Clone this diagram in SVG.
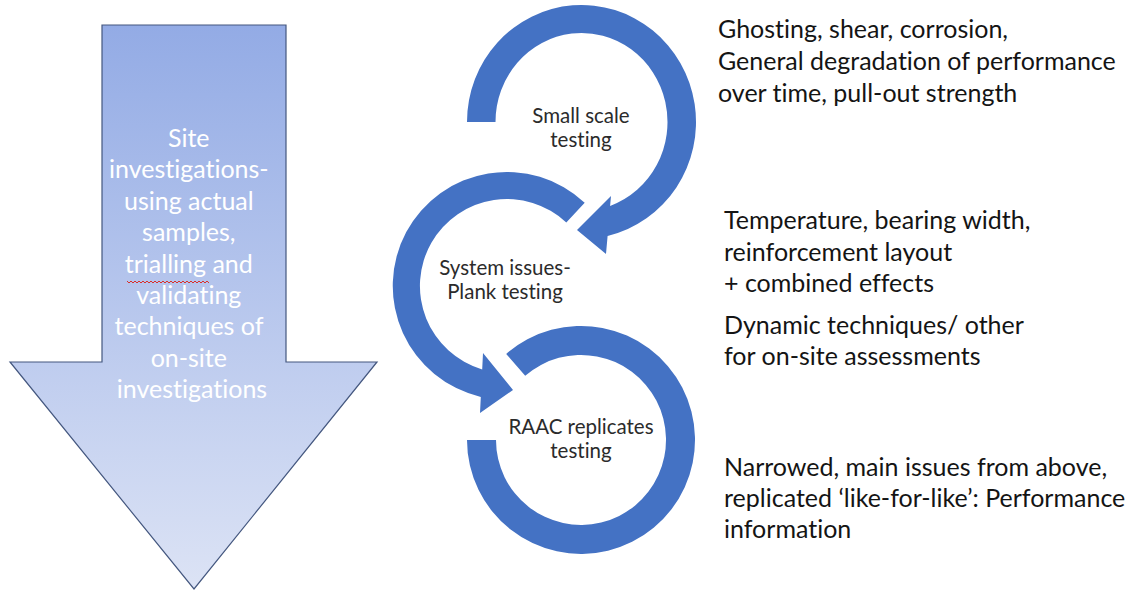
<svg xmlns="http://www.w3.org/2000/svg" width="1132" height="592" viewBox="0 0 1132 592">
<defs>
<linearGradient id="arrowGrad" x1="0" y1="25" x2="0" y2="589" gradientUnits="userSpaceOnUse">
<stop offset="0" stop-color="#93ABE5"/>
<stop offset="1" stop-color="#DCE3F5"/>
</linearGradient>
<style>
text{font-variant-ligatures:none}
.note{font-family:Lato,"Liberation Sans",sans-serif;font-size:25px;fill:#141414}
.inarrow{font-family:Lato,"Liberation Sans",sans-serif;font-size:25px;fill:#ffffff;text-anchor:middle}
.lbl{font-family:Lato,"Liberation Sans",sans-serif;font-size:20.5px;fill:#2b2b2b;text-anchor:middle}
.ring{fill:#4472C4}
</style>
</defs>
<rect width="1132" height="592" fill="#ffffff"/>

<g id="site-investigations">
<path d="M102,25 H286 V362 H377 L194,589 L10,362 H102 Z" fill="url(#arrowGrad)" stroke="#44577F" stroke-width="1.2"/>
<text class="inarrow">
<tspan x="192" y="147">Site</tspan>
<tspan x="192" y="178.4">investigations-</tspan>
<tspan x="192" y="209.8">using actual</tspan>
<tspan x="192" y="241.2">samples,</tspan>
<tspan x="192" y="272.6">trialling and</tspan>
<tspan x="192" y="304">validating</tspan>
<tspan x="192" y="335.4">techniques of</tspan>
<tspan x="192" y="366.8">on-site</tspan>
<tspan x="192" y="398.2">investigations</tspan>
</text>
<path d="M127,281 l2,2 l2,-2 l2,2 l2,-2 l2,2 l2,-2 l2,2 l2,-2 l2,2 l2,-2 l2,2 l2,-2 l2,2 l2,-2 l2,2 l2,-2 l2,2 l2,-2 l2,2 l2,-2 l2,2 l2,-2 l2,2 l2,-2 l2,2 l2,-2 l2,2 l2,-2 l2,2 l2,-2 l2,2 l2,-2 l2,2 l2,-2 l2,2 l2,-2 l2,2 l2,-2 l2,2 l2,-2 l2,2" fill="none" stroke="#D9302A" stroke-width="1"/>
</g>

<g id="connectors">
<path class="ring" d="M467,122 A114.5,117 0 1 1 607.6,235.9 L606,254 L577,230 L611,196 L610.1,205.9 A86,89 0 1 0 495.5,122 Z"/>
<path class="ring" d="M584.7,202.7 A114,114 0 1 0 480.8,396.9 L480,413 L513,390 L483,353 L482.2,369.4 A87,87 0 1 1 566.3,222.4 Z"/>
<path class="ring" d="M506.2,353.9 A114,114 0 1 1 467,440 L496,440 A85,85 0 1 0 525.2,375.8 Z"/>
</g>

<g id="small-scale-testing">
<text class="lbl"><tspan x="581" y="122.5">Small scale</tspan><tspan x="581" y="146.5">testing</tspan></text>
</g>
<g id="system-issues">
<text class="lbl"><tspan x="505" y="275">System issues-</tspan><tspan x="505" y="299">Plank testing</tspan></text>
</g>
<g id="raac-replicates">
<text class="lbl"><tspan x="581" y="434">RAAC replicates</tspan><tspan x="581" y="458">testing</tspan></text>
</g>

<g id="note-small-scale">
<text class="note"><tspan x="718" y="38">Ghosting, shear, corrosion,</tspan><tspan x="718" y="70">General degradation of performance</tspan><tspan x="718" y="102">over time, pull-out strength</tspan></text>
</g>
<g id="note-system">
<text class="note"><tspan x="724" y="229">Temperature, bearing width,</tspan><tspan x="724" y="261">reinforcement layout</tspan><tspan x="724" y="292">+ combined effects</tspan></text>
</g>
<g id="note-dynamic">
<text class="note"><tspan x="724" y="334">Dynamic techniques/ other</tspan><tspan x="724" y="365">for on-site assessments</tspan></text>
</g>
<g id="note-raac">
<text class="note"><tspan x="724" y="476">Narrowed, main issues from above,</tspan><tspan x="724" y="507">replicated ‘like-for-like’: Performance</tspan><tspan x="724" y="538">information</tspan></text>
</g>
</svg>
